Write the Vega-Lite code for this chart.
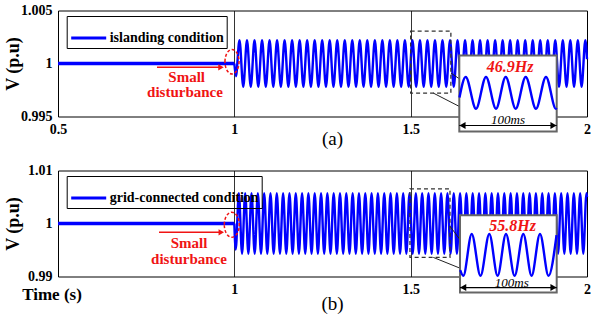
{
"$schema": "https://vega.github.io/schema/vega-lite/v6.json",
"background": "white",
"padding": {"left": 3, "top": 2.5, "right": 0, "bottom": 0},
"spacing": 54,
"bounds": "flush",
"resolve": {"scale": {"x": "independent", "y": "independent", "color": "independent"}},
"config": {
  "view": {"stroke": "#000", "strokeWidth": 1},
  "font": "Liberation Serif",
  "axis": {"domain": false, "ticks": false, "labelFont": "Liberation Serif", "labelFontSize": 14, "labelFontWeight": "bold", "labelColor": "#000", "titleFont": "Liberation Serif", "titleColor": "#000", "format": ".4~g"},
  "axisX": {"grid": true, "gridColor": "#000", "gridOpacity": 1, "gridWidth": 0.8, "labelFlush": false, "labelPadding": 6, "titleFontWeight": "normal", "titleFontSize": 19, "titleBaseline": "middle", "titleAlign": "center"},
  "axisY": {"grid": false, "labelPadding": 6, "titleFontSize": 18, "titleFontWeight": "bold", "titleX": -45, "titleY": 53, "titleAngle": 270, "titleAlign": "center", "titleBaseline": "middle"},
  "legend": {"title": null, "strokeColor": "#000", "padding": 3, "symbolType": "stroke", "symbolSize": 1225, "symbolStrokeWidth": 3, "labelFont": "Liberation Serif", "labelFontWeight": "bold", "labelFontSize": 14, "labelColor": "#000", "labelOffset": 2, "cornerRadius": 0}
},
"datasets": {
  "a_flat": [{"t":0.5,"v":1},{"t":1,"v":1}],
  "b_flat": [{"t":0.5,"v":1},{"t":1,"v":1}],
  "a_wave": [{"t":1,"v":1},{"t":1.0045,"v":0.9988},
{"t":1.0146,"v":1.0022},{"t":1.0253,"v":0.9978},{"t":1.0359,"v":1.0022},{"t":1.0466,"v":0.9978},{"t":1.0572,"v":1.0022},{"t":1.0679,"v":0.9978},{"t":1.0786,"v":1.0022},{"t":1.0892,"v":0.9978},{"t":1.0999,"v":1.0022},{"t":1.1105,"v":0.9978},
{"t":1.1212,"v":1.0022},{"t":1.1319,"v":0.9978},{"t":1.1425,"v":1.0022},{"t":1.1532,"v":0.9978},{"t":1.1638,"v":1.0022},{"t":1.1745,"v":0.9978},{"t":1.1852,"v":1.0022},{"t":1.1958,"v":0.9978},{"t":1.2065,"v":1.0022},{"t":1.2171,"v":0.9978},
{"t":1.2278,"v":1.0022},{"t":1.2385,"v":0.9978},{"t":1.2491,"v":1.0022},{"t":1.2598,"v":0.9978},{"t":1.2704,"v":1.0022},{"t":1.2811,"v":0.9978},{"t":1.2918,"v":1.0022},{"t":1.3024,"v":0.9978},{"t":1.3131,"v":1.0022},{"t":1.3237,"v":0.9978},
{"t":1.3344,"v":1.0022},{"t":1.3451,"v":0.9978},{"t":1.3557,"v":1.0022},{"t":1.3664,"v":0.9978},{"t":1.377,"v":1.0022},{"t":1.3877,"v":0.9978},{"t":1.3984,"v":1.0022},{"t":1.409,"v":0.9978},{"t":1.4197,"v":1.0022},{"t":1.4303,"v":0.9978},
{"t":1.441,"v":1.0022},{"t":1.4517,"v":0.9978},{"t":1.4623,"v":1.0022},{"t":1.473,"v":0.9978},{"t":1.4836,"v":1.0022},{"t":1.4943,"v":0.9978},{"t":1.505,"v":1.0022},{"t":1.5156,"v":0.9978},{"t":1.5263,"v":1.0022},{"t":1.5369,"v":0.9978},
{"t":1.5476,"v":1.0022},{"t":1.5583,"v":0.9978},{"t":1.5689,"v":1.0022},{"t":1.5796,"v":0.9978},{"t":1.5902,"v":1.0022},{"t":1.6009,"v":0.9978},{"t":1.6116,"v":1.0022},{"t":1.6222,"v":0.9978},{"t":1.6329,"v":1.0022},{"t":1.6435,"v":0.9978},
{"t":1.6542,"v":1.0022},{"t":1.6649,"v":0.9978},{"t":1.6755,"v":1.0022},{"t":1.6862,"v":0.9978},{"t":1.6968,"v":1.0022},{"t":1.7075,"v":0.9978},{"t":1.7182,"v":1.0022},{"t":1.7288,"v":0.9978},{"t":1.7395,"v":1.0022},{"t":1.7501,"v":0.9978},
{"t":1.7608,"v":1.0022},{"t":1.7715,"v":0.9978},{"t":1.7821,"v":1.0022},{"t":1.7928,"v":0.9978},{"t":1.8034,"v":1.0022},{"t":1.8141,"v":0.9978},{"t":1.8248,"v":1.0022},{"t":1.8354,"v":0.9978},{"t":1.8461,"v":1.0022},{"t":1.8567,"v":0.9978},
{"t":1.8674,"v":1.0022},{"t":1.8781,"v":0.9978},{"t":1.8887,"v":1.0022},{"t":1.8994,"v":0.9978},{"t":1.91,"v":1.0022},{"t":1.9207,"v":0.9978},{"t":1.9314,"v":1.0022},{"t":1.942,"v":0.9978},{"t":1.9527,"v":1.0022},{"t":1.9633,"v":0.9978},
{"t":1.974,"v":1.0022},{"t":1.9847,"v":0.9978},{"t":1.9953,"v":1.0022},{"t":2,"v":1.0004}],
  "b_wave": [{"t":1,"v":1},{"t":1.0039,"v":0.9951},
{"t":1.0129,"v":1.0057},{"t":1.0219,"v":0.9943},{"t":1.0308,"v":1.0057},{"t":1.0398,"v":0.9943},{"t":1.0487,"v":1.0057},{"t":1.0577,"v":0.9943},{"t":1.0667,"v":1.0057},{"t":1.0756,"v":0.9943},{"t":1.0846,"v":1.0057},{"t":1.0935,"v":0.9943},
{"t":1.1025,"v":1.0057},{"t":1.1115,"v":0.9943},{"t":1.1204,"v":1.0057},{"t":1.1294,"v":0.9943},{"t":1.1383,"v":1.0057},{"t":1.1473,"v":0.9943},{"t":1.1563,"v":1.0057},{"t":1.1652,"v":0.9943},{"t":1.1742,"v":1.0057},{"t":1.1831,"v":0.9943},
{"t":1.1921,"v":1.0057},{"t":1.2011,"v":0.9943},{"t":1.21,"v":1.0057},{"t":1.219,"v":0.9943},{"t":1.2279,"v":1.0057},{"t":1.2369,"v":0.9943},{"t":1.2459,"v":1.0057},{"t":1.2548,"v":0.9943},{"t":1.2638,"v":1.0057},{"t":1.2727,"v":0.9943},
{"t":1.2817,"v":1.0057},{"t":1.2907,"v":0.9943},{"t":1.2996,"v":1.0057},{"t":1.3086,"v":0.9943},{"t":1.3175,"v":1.0057},{"t":1.3265,"v":0.9943},{"t":1.3355,"v":1.0057},{"t":1.3444,"v":0.9943},{"t":1.3534,"v":1.0057},{"t":1.3623,"v":0.9943},
{"t":1.3713,"v":1.0057},{"t":1.3803,"v":0.9943},{"t":1.3892,"v":1.0057},{"t":1.3982,"v":0.9943},{"t":1.4071,"v":1.0057},{"t":1.4161,"v":0.9943},{"t":1.4251,"v":1.0057},{"t":1.434,"v":0.9943},{"t":1.443,"v":1.0057},{"t":1.4519,"v":0.9943},
{"t":1.4609,"v":1.0057},{"t":1.4699,"v":0.9943},{"t":1.4788,"v":1.0057},{"t":1.4878,"v":0.9943},{"t":1.4967,"v":1.0057},{"t":1.5057,"v":0.9943},{"t":1.5147,"v":1.0057},{"t":1.5236,"v":0.9943},{"t":1.5326,"v":1.0057},{"t":1.5415,"v":0.9943},
{"t":1.5505,"v":1.0057},{"t":1.5595,"v":0.9943},{"t":1.5684,"v":1.0057},{"t":1.5774,"v":0.9943},{"t":1.5863,"v":1.0057},{"t":1.5953,"v":0.9943},{"t":1.6043,"v":1.0057},{"t":1.6132,"v":0.9943},{"t":1.6222,"v":1.0057},{"t":1.6311,"v":0.9943},
{"t":1.6401,"v":1.0057},{"t":1.6491,"v":0.9943},{"t":1.658,"v":1.0057},{"t":1.667,"v":0.9943},{"t":1.6759,"v":1.0057},{"t":1.6849,"v":0.9943},{"t":1.6939,"v":1.0057},{"t":1.7028,"v":0.9943},{"t":1.7118,"v":1.0057},{"t":1.7207,"v":0.9943},
{"t":1.7297,"v":1.0057},{"t":1.7387,"v":0.9943},{"t":1.7476,"v":1.0057},{"t":1.7566,"v":0.9943},{"t":1.7655,"v":1.0057},{"t":1.7745,"v":0.9943},{"t":1.7835,"v":1.0057},{"t":1.7924,"v":0.9943},{"t":1.8014,"v":1.0057},{"t":1.8103,"v":0.9943},
{"t":1.8193,"v":1.0057},{"t":1.8283,"v":0.9943},{"t":1.8372,"v":1.0057},{"t":1.8462,"v":0.9943},{"t":1.8551,"v":1.0057},{"t":1.8641,"v":0.9943},{"t":1.8731,"v":1.0057},{"t":1.882,"v":0.9943},{"t":1.891,"v":1.0057},{"t":1.8999,"v":0.9943},
{"t":1.9089,"v":1.0057},{"t":1.9179,"v":0.9943},{"t":1.9268,"v":1.0057},{"t":1.9358,"v":0.9943},{"t":1.9447,"v":1.0057},{"t":1.9537,"v":0.9943},{"t":1.9627,"v":1.0057},{"t":1.9716,"v":0.9943},{"t":1.9806,"v":1.0057},{"t":1.9895,"v":0.9943},
{"t":1.9985,"v":1.0057},{"t":2,"v":1.005}],
  "a_inset": [{"t":1.6384,"v":0.9968},{"t":1.656,"v":0.99873},{"t":1.6853,"v":0.99573},{"t":1.7136,"v":0.99873},{"t":1.742,"v":0.99573},{"t":1.7695,"v":0.99873},{"t":1.7978,"v":0.99573},{"t":1.8262,"v":0.99873},{"t":1.8554,"v":0.99573},{"t":1.8837,"v":0.99873},{"t":1.9118,"v":0.99573},{"t":1.9136,"v":0.9958}],
  "b_inset": [{"t":1.6405,"v":0.9912},{"t":1.6493,"v":0.99013},{"t":1.6731,"v":0.99802},{"t":1.698,"v":0.99013},{"t":1.723,"v":0.99802},{"t":1.7465,"v":0.99013},{"t":1.7703,"v":0.99802},{"t":1.7947,"v":0.99013},{"t":1.8194,"v":0.99802},{"t":1.8429,"v":0.99013},{"t":1.8667,"v":0.99802},{"t":1.8909,"v":0.99013},{"t":1.9136,"v":0.9978}]
},
"vconcat": [
{
  "width": 529, "height": 106,
  "data": {"values": [{"n": 1}]},
  "layer": [
    {"data": {"name": "a_flat"}, "mark": {"type": "line", "color": "#0000ff", "strokeWidth": 3.5},
     "encoding": {
       "x": {"field": "t", "type": "quantitative", "scale": {"domain": [0.5, 2], "nice": false, "zero": false}, "axis": {"values": [0.5, 1, 1.5, 2], "title": "(a)", "titleX": 274, "titleY": 22}},
       "y": {"field": "v", "type": "quantitative", "scale": {"domain": [0.995, 1.005], "nice": false, "zero": false}, "axis": {"values": [0.995, 1, 1.005], "title": "V (p.u)"}}}},
    {"data": {"name": "a_wave"}, "mark": {"type": "line", "strokeWidth": 2.4, "interpolate": "monotone"},
     "encoding": {
       "x": {"field": "t", "type": "quantitative"},
       "y": {"field": "v", "type": "quantitative"},
       "color": {"datum": "islanding condition", "scale": {"range": ["#0000ff"]}, "legend": {"orient": "none", "legendX": 8.7, "legendY": 5.5}}}},
    {"mark": {"type": "rect", "filled": false, "stroke": "#333", "strokeDash": [4, 3], "strokeWidth": 1.3},
     "encoding": {"x": {"datum": 1.5}, "x2": {"datum": 1.614}, "y": {"datum": 1.00306}, "y2": {"datum": 0.99721}}},
    {"mark": {"type": "rule", "color": "#222", "strokeWidth": 1},
     "encoding": {"x": {"datum": 1.5642}, "y": {"datum": 0.99721}, "x2": {"datum": 1.6379}, "y2": {"datum": 0.99595}}},
    {"mark": {"type": "rule", "color": "#222", "strokeWidth": 1},
     "encoding": {"x": {"datum": 1.6144}, "y": {"datum": 0.9991}, "x2": {"datum": 1.6379}, "y2": {"datum": 0.99856}}},
    {"mark": {"type": "rect", "fill": "white", "stroke": "#666", "strokeWidth": 2},
     "encoding": {"x": {"datum": 1.6379}, "x2": {"datum": 1.9141}, "y": {"datum": 1.00075}, "y2": {"datum": 0.99358}}},
    {"data": {"name": "a_inset"}, "mark": {"type": "line", "color": "#0000ff", "strokeWidth": 2.4, "interpolate": "monotone"},
     "encoding": {"x": {"field": "t", "type": "quantitative"}, "y": {"field": "v", "type": "quantitative"}}},
    {"mark": {"type": "text", "text": "46.9Hz", "font": "Liberation Serif", "fontSize": 16, "fontWeight": "bold", "fontStyle": "italic", "color": "#f01414", "align": "center", "baseline": "middle"},
     "encoding": {"x": {"datum": 1.7817}, "y": {"datum": 0.99967}}},
    {"mark": {"type": "rule", "color": "#000", "strokeWidth": 1.2},
     "encoding": {"x": {"datum": 1.6379}, "x2": {"datum": 1.9141}, "y": {"datum": 0.99415}}},
    {"mark": {"type": "point", "shape": "triangle-left", "filled": true, "color": "#000", "size": 50, "opacity": 1},
     "encoding": {"x": {"datum": 1.647}, "y": {"datum": 0.99415}}},
    {"mark": {"type": "point", "shape": "triangle-right", "filled": true, "color": "#000", "size": 50, "opacity": 1},
     "encoding": {"x": {"datum": 1.905}, "y": {"datum": 0.99415}}},
    {"mark": {"type": "text", "text": "100ms", "font": "Liberation Serif", "fontSize": 13, "fontStyle": "italic", "color": "#000", "align": "center", "baseline": "middle"},
     "encoding": {"x": {"datum": 1.776}, "y": {"datum": 0.99469}}},
    {"mark": {"type": "point", "shape": "M -0.574,0 A 0.574,1 0 1,1 0.574,0 A 0.574,1 0 1,1 -0.574,0 Z", "filled": false, "color": "#f01414", "strokeWidth": 1.5, "strokeDash": [3, 2], "size": 600, "opacity": 1},
     "encoding": {"x": {"datum": 0.9934}, "y": {"datum": 1.000166}}},
    {"mark": {"type": "rule", "color": "#f01414", "strokeWidth": 1.5},
     "encoding": {"x": {"datum": 0.7807}, "x2": {"datum": 0.9622}, "y": {"datum": 0.99964}}},
    {"mark": {"type": "point", "shape": "triangle-right", "filled": true, "color": "#f01414", "size": 40, "opacity": 1},
     "encoding": {"x": {"datum": 0.9622}, "y": {"datum": 0.99964}}},
    {"mark": {"type": "text", "text": "Small", "font": "Liberation Serif", "fontSize": 15, "fontWeight": "bold", "color": "#f01414", "align": "center", "baseline": "middle"},
     "encoding": {"x": {"datum": 0.8649}, "y": {"datum": 0.9987}}},
    {"mark": {"type": "text", "text": "disturbance", "font": "Liberation Serif", "fontSize": 15, "fontWeight": "bold", "color": "#f01414", "align": "center", "baseline": "middle"},
     "encoding": {"x": {"datum": 0.8601}, "y": {"datum": 0.9973}}}
  ]
},
{
  "width": 529, "height": 106,
  "data": {"values": [{"n": 1}]},
  "layer": [
    {"data": {"name": "b_flat"}, "mark": {"type": "line", "color": "#0000ff", "strokeWidth": 3.5},
     "encoding": {
       "x": {"field": "t", "type": "quantitative", "scale": {"domain": [0.5, 2], "nice": false, "zero": false}, "axis": {"values": [1, 1.5, 2], "title": "(b)", "titleX": 274, "titleY": 27}},
       "y": {"field": "v", "type": "quantitative", "scale": {"domain": [0.99, 1.01], "nice": false, "zero": false}, "axis": {"values": [0.99, 1, 1.01], "title": "V (p.u)"}}}},
    {"data": {"name": "b_wave"}, "mark": {"type": "line", "strokeWidth": 2.4, "interpolate": "monotone"},
     "encoding": {
       "x": {"field": "t", "type": "quantitative"},
       "y": {"field": "v", "type": "quantitative"},
       "color": {"datum": "grid-connected condition", "scale": {"range": ["#0000ff"]}, "legend": {"orient": "none", "legendX": 8.7, "legendY": 5.5}}}},
    {"mark": {"type": "rect", "filled": false, "stroke": "#333", "strokeDash": [4, 3], "strokeWidth": 1.3},
     "encoding": {"x": {"datum": 1.498}, "x2": {"datum": 1.6115}, "y": {"datum": 1.00655}, "y2": {"datum": 0.9936}}},
    {"mark": {"type": "rule", "color": "#222", "strokeWidth": 1},
     "encoding": {"x": {"datum": 1.5642}, "y": {"datum": 0.9936}, "x2": {"datum": 1.6399}, "y2": {"datum": 0.99157}}},
    {"mark": {"type": "rule", "color": "#222", "strokeWidth": 1},
     "encoding": {"x": {"datum": 1.6115}, "y": {"datum": 0.99948}, "x2": {"datum": 1.6399}, "y2": {"datum": 0.99696}}},
    {"mark": {"type": "rect", "fill": "white", "stroke": "#666", "strokeWidth": 2},
     "encoding": {"x": {"datum": 1.6399}, "x2": {"datum": 1.9141}, "y": {"datum": 1.00156}, "y2": {"datum": 0.98697}}},
    {"data": {"name": "b_inset"}, "mark": {"type": "line", "color": "#0000ff", "strokeWidth": 2.4, "interpolate": "monotone"},
     "encoding": {"x": {"field": "t", "type": "quantitative"}, "y": {"field": "v", "type": "quantitative"}}},
    {"mark": {"type": "text", "text": "55.8Hz", "font": "Liberation Serif", "fontSize": 16, "fontWeight": "bold", "fontStyle": "italic", "color": "#f01414", "align": "center", "baseline": "middle"},
     "encoding": {"x": {"datum": 1.7893}, "y": {"datum": 0.99948}}},
    {"mark": {"type": "rule", "color": "#000", "strokeWidth": 1.2},
     "encoding": {"x": {"datum": 1.6399}, "x2": {"datum": 1.9141}, "y": {"datum": 0.987915}}},
    {"mark": {"type": "point", "shape": "triangle-left", "filled": true, "color": "#000", "size": 50, "opacity": 1},
     "encoding": {"x": {"datum": 1.6489}, "y": {"datum": 0.987915}}},
    {"mark": {"type": "point", "shape": "triangle-right", "filled": true, "color": "#000", "size": 50, "opacity": 1},
     "encoding": {"x": {"datum": 1.905}, "y": {"datum": 0.987915}}},
    {"mark": {"type": "text", "text": "100ms", "font": "Liberation Serif", "fontSize": 13, "fontStyle": "italic", "color": "#000", "align": "center", "baseline": "middle"},
     "encoding": {"x": {"datum": 1.7865}, "y": {"datum": 0.98873}}},
    {"mark": {"type": "point", "shape": "M -0.6,0 A 0.6,1 0 1,1 0.6,0 A 0.6,1 0 1,1 -0.6,0 Z", "filled": false, "color": "#f01414", "strokeWidth": 1.5, "strokeDash": [3, 2], "size": 625, "opacity": 1},
     "encoding": {"x": {"datum": 0.9928}, "y": {"datum": 0.999763}}},
    {"mark": {"type": "rule", "color": "#f01414", "strokeWidth": 1.5},
     "encoding": {"x": {"datum": 0.7864}, "x2": {"datum": 0.963}, "y": {"datum": 0.998341}}},
    {"mark": {"type": "point", "shape": "triangle-right", "filled": true, "color": "#f01414", "size": 40, "opacity": 1},
     "encoding": {"x": {"datum": 0.963}, "y": {"datum": 0.998341}}},
    {"mark": {"type": "text", "text": "Small", "font": "Liberation Serif", "fontSize": 15, "fontWeight": "bold", "color": "#f01414", "align": "center", "baseline": "middle"},
     "encoding": {"x": {"datum": 0.8715}, "y": {"datum": 0.996313}}},
    {"mark": {"type": "text", "text": "disturbance", "font": "Liberation Serif", "fontSize": 15, "fontWeight": "bold", "color": "#f01414", "align": "center", "baseline": "middle"},
     "encoding": {"x": {"datum": 0.8715}, "y": {"datum": 0.993355}}},
    {"mark": {"type": "text", "text": "Time (s)", "font": "Liberation Serif", "fontSize": 17, "fontWeight": "bold", "color": "#000", "align": "center", "baseline": "middle"},
     "encoding": {"x": {"datum": 0.483}, "y": {"datum": 0.986588}}}
  ]
}
]
}
